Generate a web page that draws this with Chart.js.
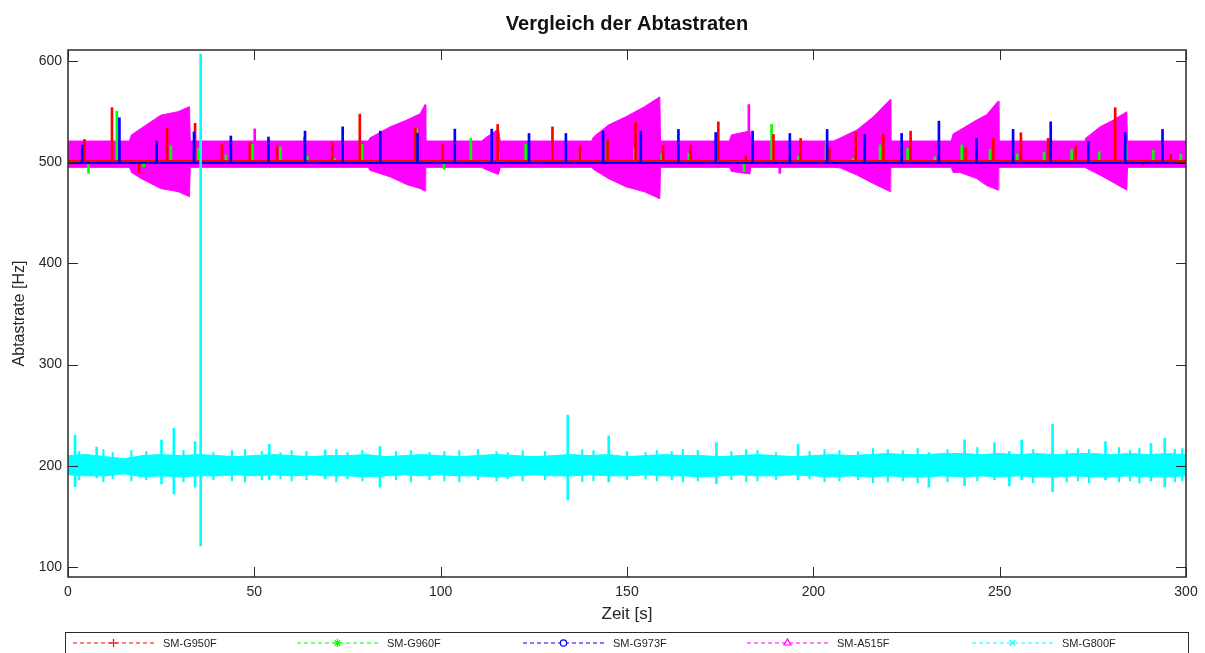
<!DOCTYPE html>
<html>
<head>
<meta charset="utf-8">
<title>Vergleich der Abtastraten</title>
<script src="https://cdn.jsdelivr.net/npm/chart.js@4.4.1/dist/chart.umd.min.js"></script>
<style>
  html, body { margin: 0; padding: 0; background: #fff; }
  #chart { display: block; }
</style>
</head>
<body>
<canvas id="chart" width="1205" height="653"></canvas>
<script>
// --- 1. Data ---
const CHART_TITLE = 'Vergleich der Abtastraten';
const SERIES_NAMES = ['SM-G950F', 'SM-G960F', 'SM-G973F', 'SM-A515F', 'SM-G800F'];
const SERIES_COLORS = ['#ff0000', '#00ff00', '#0000ff', '#ff00ff', '#00ffff'];
const SERIES_MARKERS = ['cross', 'star', 'circle', 'triangle', 'crossRot'];

const X_TICKS = [0, 50, 100, 150, 200, 250, 300];
const Y_TICKS = [100, 200, 300, 400, 500, 600];

// SM-G950F (red): baseline + spikes
const redLevel = 501.3;
const redSpikeTime = [4.4, 11.8, 19.1, 26.6, 34.1, 41.3, 48.8, 56.1, 63.5, 70.9, 78.3, 93.2, 100.5, 115.3, 130, 137.4, 144.8, 152.3, 159.7, 167.1, 174.5, 181.9, 189.3, 196.6, 204.3, 211.4, 218.8, 226.1, 240.9, 248.3, 255.7, 263, 270.4, 281, 288.4, 295.9];
const redSpikeValue = [522.6, 554, 490, 533.5, 538.5, 517.6, 519.3, 517, 525, 519.6, 547.6, 533.5, 517.7, 537.4, 535, 516, 522, 539.4, 516.3, 517, 540, 506.4, 527.5, 523.6, 514.3, 529.4, 527.5, 530.8, 514.3, 523.6, 529.2, 523.6, 516, 554, 496.6, 508];

// SM-G960F (green)
const greenLevel = 500.3;
const greenSpikeTime = [5.5, 13.1, 20.3, 27.6, 35, 42.4, 49.5, 57, 64.2, 71.5, 78.9, 93.6, 100.9, 108.1, 115.5, 122.8, 130, 137.4, 144.8, 152, 159.3, 166.6, 174.1, 181.4, 188.8, 196, 203.4, 210.7, 217.9, 225.3, 232.6, 239.8, 247.4, 254.7, 261.9, 269.3, 276.7, 283.9, 291.2, 298.6];
const greenSpikeValue = [489, 550.6, 495.6, 516.3, 513.7, 507, 517.7, 515.3, 506, 503.8, 517.7, 533.5, 493.3, 523.6, 510.4, 517.7, 512, 510.4, 520.3, 514.3, 508.7, 508.7, 511, 491, 537.4, 506, 520.3, 503.8, 517, 513.7, 505.4, 517, 512.7, 508, 509.7, 512.7, 510.4, 517, 512, 508];

// SM-G973F (blue)
const blueLevel = 499.4;
const blueSpikeTime = [3.8, 13.8, 23.8, 33.8, 43.7, 53.8, 63.6, 73.7, 83.8, 93.8, 103.8, 113.7, 123.7, 133.6, 143.6, 153.7, 163.8, 173.8, 183.7, 193.7, 203.7, 213.8, 223.7, 233.7, 243.8, 253.6, 263.7, 273.8, 283.7, 293.7];
const blueSpikeValue = [517, 544, 521, 530, 526, 525, 530.8, 535, 530.8, 528.5, 532.8, 532.8, 528.5, 528.5, 530.8, 530.8, 532.5, 529.4, 530.8, 528.5, 532.5, 527.5, 528.5, 540.7, 523.6, 532.5, 540, 520.3, 529.4, 532.5];

// SM-A515F (magenta): envelope of the dense band with its ramps
const magTime = [0, 16.5, 17.0, 19.6, 24.9, 29.5, 32.6, 32.8,
  80.6, 81.0, 86.4, 90.9, 94.5, 95.8, 96.0,
  111.0, 112.0, 115.5, 116.0,
  140.5, 141.0, 145.0, 149.7, 154.7, 158.8, 159.0,
  177.5, 178.0, 183.0, 183.2,
  205.4, 207.2, 211.7, 216.1, 220.6, 220.8,
  237.0, 237.5, 239.3, 243.8, 246.5, 249.6, 249.8,
  272.9, 273.0, 276.9, 280.5, 284.1, 284.3, 300];
const magHigh = [521, 521, 527, 533.5, 546.6, 550, 555, 521,
  521, 524, 535, 541.7, 548, 557, 521,
  521, 524, 533, 521,
  521, 525, 536.8, 545, 555, 564.7, 521,
  521, 527, 531, 521,
  521, 524, 532, 545, 562, 521,
  521, 528, 531.8, 541.7, 547, 560.5, 521,
  521, 523.6, 535, 541.7, 550, 521, 521];
const magLow = [495, 495, 490, 484, 474, 471, 466, 495,
  495, 492, 485.7, 478, 474, 471.5, 495,
  495, 493, 488, 495,
  495, 493, 484, 475.8, 470.8, 464, 495,
  495, 491, 488.5, 495,
  495, 494.5, 487.4, 479, 471, 495,
  495, 490, 490, 484, 477, 472.5, 495,
  495, 494.6, 487.4, 480, 472.5, 495, 495];
const magSpikeTime = [50.1, 182.7, 191];
const magSpikeValue = [533, 557, 489];

// SM-G800F (cyan): band around 200 Hz plus outliers
const cyanTime = [0, 5, 10, 15, 20, 25, 30, 35, 40, 45, 50, 55, 60, 65, 70, 75, 80, 85, 90, 95,
  100, 105, 110, 115, 120, 125, 130, 135, 140, 145, 150, 155, 160, 165, 170, 175, 180, 185, 190, 195,
  200, 205, 210, 215, 220, 225, 230, 235, 240, 245, 250, 255, 260, 265, 270, 275, 280, 285, 290, 295, 300];
const cyanHigh = [210, 211, 209, 207, 210, 211, 210, 211, 210, 209, 210, 211, 210, 209, 210, 210, 211, 209, 210, 211,
  210, 209, 210, 211, 210, 209, 210, 211, 210, 211, 209, 210, 211, 210, 210, 209, 210, 211, 210, 209,
  210, 211, 210, 211, 212, 211, 211, 212, 212, 211, 212, 211, 212, 211, 212, 212, 211, 212, 211, 212, 211];
const cyanLow = [191, 190, 190, 192, 189, 190, 189, 190, 190, 191, 190, 191, 190, 191, 190, 190, 189, 190, 191, 190,
  191, 190, 190, 189, 190, 191, 190, 190, 191, 190, 190, 191, 190, 190, 189, 190, 191, 190, 190, 191,
  190, 189, 190, 189, 190, 189, 189, 190, 189, 190, 189, 190, 189, 189, 190, 189, 189, 190, 189, 189, 190];
const cyanSpikeTime = [1.9, 7.7, 25.1, 28.4, 34.1, 35.6, 54, 69, 83.7, 134.1, 145.1, 174, 195.9, 231, 240.6, 248.6, 252.6, 255.9, 264.2, 278.4, 290.6, 294.3];
const cyanSpikeHigh = [230.4, 218.3, 225.5, 237, 223.8, 607, 221, 215.6, 219, 250, 229.5, 222.8, 221, 213, 225.5, 222.8, 214, 225.5, 241, 223.8, 222, 227.2];
const cyanSpikeLow = [179.3, 188, 182, 172, 178.8, 120.7, 186, 187, 178.8, 166.2, 184, 182.4, 186, 178.8, 180.4, 186, 180, 186, 174.4, 186, 185, 179];
const cyanNoiseTime = [3, 9.5, 12, 17, 21, 31, 39, 44, 47.5, 52, 57, 60, 64, 72, 75, 79, 88, 92, 97, 101,
  105, 110, 115, 118, 122, 128, 138, 141, 150, 155, 158, 162, 165, 169, 178, 182, 185, 190, 199, 203,
  207, 212, 216, 220, 224, 228, 236, 244, 259, 268, 271, 274, 282, 285, 287.5, 297, 299];
const cyanNoiseHigh = [214, 216, 213, 215, 214, 215, 213, 215, 216, 214, 213, 215, 214, 216, 213, 215, 214, 215, 213, 214,
  215, 216, 214, 213, 215, 214, 216, 215, 214, 213, 215, 214, 216, 215, 214, 216, 215, 213, 214, 216,
  215, 214, 217, 216, 215, 217, 216, 218, 216, 215, 217, 216, 218, 215, 217, 216, 217];
const cyanNoiseLow = [186, 184, 187, 185, 186, 184, 186, 185, 184, 186, 187, 185, 186, 184, 187, 185, 186, 184, 186, 185,
  184, 186, 185, 187, 185, 186, 184, 185, 186, 187, 185, 186, 184, 185, 186, 184, 185, 186, 187, 184,
  185, 186, 183, 184, 185, 183, 184, 185, 183, 184, 185, 183, 184, 185, 183, 184, 185];

// --- 2. Look ---
const AXIS_COLOR = '#2b2b2b';
const TEXT_COLOR = '#262626';
const FONT = '"Liberation Sans", Arial, Helvetica, sans-serif';
const TICK_LEN = 10;
const LEGEND_START = [73, 297, 523, 747, 972];
const LEGEND_SAMPLE = 81;

// --- 3. Dataset helpers ---
const toPoints = (xs, ys) => xs.map((x, i) => ({ x: x, y: ys[i] }));
const toBars = (xs, lo, hi) => xs.map((x, i) => ({ x: x, y: [Array.isArray(lo) ? lo[i] : lo, hi[i]] }));
const flat = (level) => [{ x: 0, y: level }, { x: 300, y: level }];

function lineSet(label, data, color, order, extra) {
  return Object.assign({
    type: 'line', label: label, data: data, borderColor: color, backgroundColor: color,
    borderWidth: 1.5, pointRadius: 0, tension: 0, fill: false, order: order
  }, extra || {});
}

function barSet(label, data, color, order, thickness) {
  return {
    type: 'bar', label: label, data: data, backgroundColor: color, borderWidth: 0,
    barThickness: thickness || 2, grouped: false, order: order
  };
}

// --- 4. Plugins: title over the axes box, Octave-like frame with inward ticks, boxed legend ---
const axesTitle = {
  id: 'axesTitle',
  afterDraw(chart) {
    const { ctx, chartArea: a } = chart;
    ctx.save();
    ctx.fillStyle = '#111';
    ctx.font = 'bold 20px ' + FONT;
    ctx.textAlign = 'center';
    ctx.textBaseline = 'middle';
    ctx.fillText(CHART_TITLE, (a.left + a.right) / 2, 24);
    ctx.restore();
  }
};

const octaveFrame = {
  id: 'octaveFrame',
  afterDatasetsDraw(chart) {
    const { ctx, chartArea: a, scales: { x, y } } = chart;
    ctx.save();
    ctx.strokeStyle = AXIS_COLOR;
    ctx.lineWidth = 1;
    ctx.beginPath();
    X_TICKS.forEach(v => {
      const px = Math.round(x.getPixelForValue(v)) + 0.5;
      ctx.moveTo(px, a.bottom); ctx.lineTo(px, a.bottom - TICK_LEN);
      ctx.moveTo(px, a.top); ctx.lineTo(px, a.top + TICK_LEN);
    });
    Y_TICKS.forEach(v => {
      const py = Math.round(y.getPixelForValue(v)) + 0.5;
      ctx.moveTo(a.left, py); ctx.lineTo(a.left + TICK_LEN, py);
      ctx.moveTo(a.right, py); ctx.lineTo(a.right - TICK_LEN, py);
    });
    ctx.stroke();
    ctx.lineWidth = 1.5;
    ctx.strokeRect(a.left, a.top, a.right - a.left, a.bottom - a.top);
    ctx.restore();
  }
};

const boxLegend = {
  id: 'boxLegend',
  afterDraw(chart) {
    const ctx = chart.ctx;
    const cy = 643;
    ctx.save();
    ctx.strokeStyle = AXIS_COLOR;
    ctx.lineWidth = 1;
    ctx.strokeRect(65.5, 632.5, 1123, 40);
    ctx.font = '11px ' + FONT;
    ctx.textBaseline = 'middle';
    ctx.textAlign = 'left';
    SERIES_NAMES.forEach((name, i) => {
      const x0 = LEGEND_START[i];
      ctx.strokeStyle = SERIES_COLORS[i];
      ctx.lineWidth = 1.2;
      ctx.setLineDash([4, 3]);
      ctx.beginPath();
      ctx.moveTo(x0, cy); ctx.lineTo(x0 + LEGEND_SAMPLE, cy);
      ctx.stroke();
      ctx.setLineDash([]);
      ctx.fillStyle = '#ffffff';
      const r = SERIES_MARKERS[i] === 'circle' ? 3.2 : 4;
      Chart.helpers.drawPoint(ctx, { pointStyle: SERIES_MARKERS[i], radius: r, borderWidth: 1.2, rotation: 0 },
        x0 + LEGEND_SAMPLE / 2, cy);
      ctx.fillStyle = TEXT_COLOR;
      ctx.fillText(name, x0 + LEGEND_SAMPLE + 9, cy + 1);
    });
    ctx.restore();
  }
};

// --- 5. Chart ---
const datasets = [
  barSet('SM-G800F Ausreißer', toBars(cyanSpikeTime, cyanSpikeLow, cyanSpikeHigh), SERIES_COLORS[4], 0),
  barSet('SM-G800F Rauschen', toBars(cyanNoiseTime, cyanNoiseLow, cyanNoiseHigh), SERIES_COLORS[4], 1, 1.5),
  lineSet('SM-G800F', toPoints(cyanTime, cyanHigh), SERIES_COLORS[4], 2, { fill: '+1', borderWidth: 1 }),
  lineSet('SM-G800F unten', toPoints(cyanTime, cyanLow), SERIES_COLORS[4], 3, { borderWidth: 1 }),
  barSet('SM-G973F Spitzen', toBars(blueSpikeTime, blueLevel, blueSpikeValue), SERIES_COLORS[2], 4),
  lineSet('SM-G973F', flat(blueLevel), SERIES_COLORS[2], 5, { borderWidth: 2 }),
  barSet('SM-G950F Spitzen', toBars(redSpikeTime, redLevel, redSpikeValue), SERIES_COLORS[0], 6),
  lineSet('SM-G950F', flat(redLevel), SERIES_COLORS[0], 7, { borderWidth: 2 }),
  barSet('SM-G960F Spitzen', toBars(greenSpikeTime, greenLevel, greenSpikeValue), SERIES_COLORS[1], 8),
  lineSet('SM-G960F', flat(greenLevel), SERIES_COLORS[1], 9, { borderWidth: 2 }),
  barSet('SM-A515F Spitzen', toBars(magSpikeTime, 500, magSpikeValue), SERIES_COLORS[3], 10),
  lineSet('SM-A515F', toPoints(magTime, magHigh), SERIES_COLORS[3], 11, { fill: '+1', borderWidth: 1 }),
  lineSet('SM-A515F unten', toPoints(magTime, magLow), SERIES_COLORS[3], 12, { borderWidth: 1 })
];

new Chart(document.getElementById('chart'), {
  type: 'line',
  data: { datasets: datasets },
  options: {
    responsive: false,
    animation: false,
    events: [],
    layout: { padding: { left: 0, right: 19, top: 50, bottom: 0 } },
    plugins: {
      legend: { display: false },
      tooltip: { enabled: false },
      title: { display: false }
    },
    scales: {
      x: {
        type: 'linear', min: 0, max: 300, offset: false,
        afterBuildTicks: (s) => { s.ticks = X_TICKS.map(v => ({ value: v })); },
        afterFit: (s) => { s.height = 76; },
        grid: { display: false, drawTicks: false },
        border: { display: false },
        ticks: { color: TEXT_COLOR, font: { family: FONT, size: 14, lineHeight: '18px' }, padding: 6, maxRotation: 0 },
        title: { display: true, text: 'Zeit [s]', color: TEXT_COLOR, font: { family: FONT, size: 17 }, padding: { top: 0, bottom: 28.8 } }
      },
      y: {
        type: 'linear', min: 90, max: 611,
        afterBuildTicks: (s) => { s.ticks = Y_TICKS.map(v => ({ value: v })); },
        afterFit: (s) => { s.width = 68; },
        grid: { display: false, drawTicks: false },
        border: { display: false },
        ticks: { color: TEXT_COLOR, font: { family: FONT, size: 14 }, padding: 6 },
        title: { display: true, text: 'Abtastrate [Hz]', color: TEXT_COLOR, font: { family: FONT, size: 16 }, padding: { top: 9.5, bottom: 0 } }
      }
    }
  },
  plugins: [octaveFrame, boxLegend, axesTitle]
});
</script>
</body>
</html>
